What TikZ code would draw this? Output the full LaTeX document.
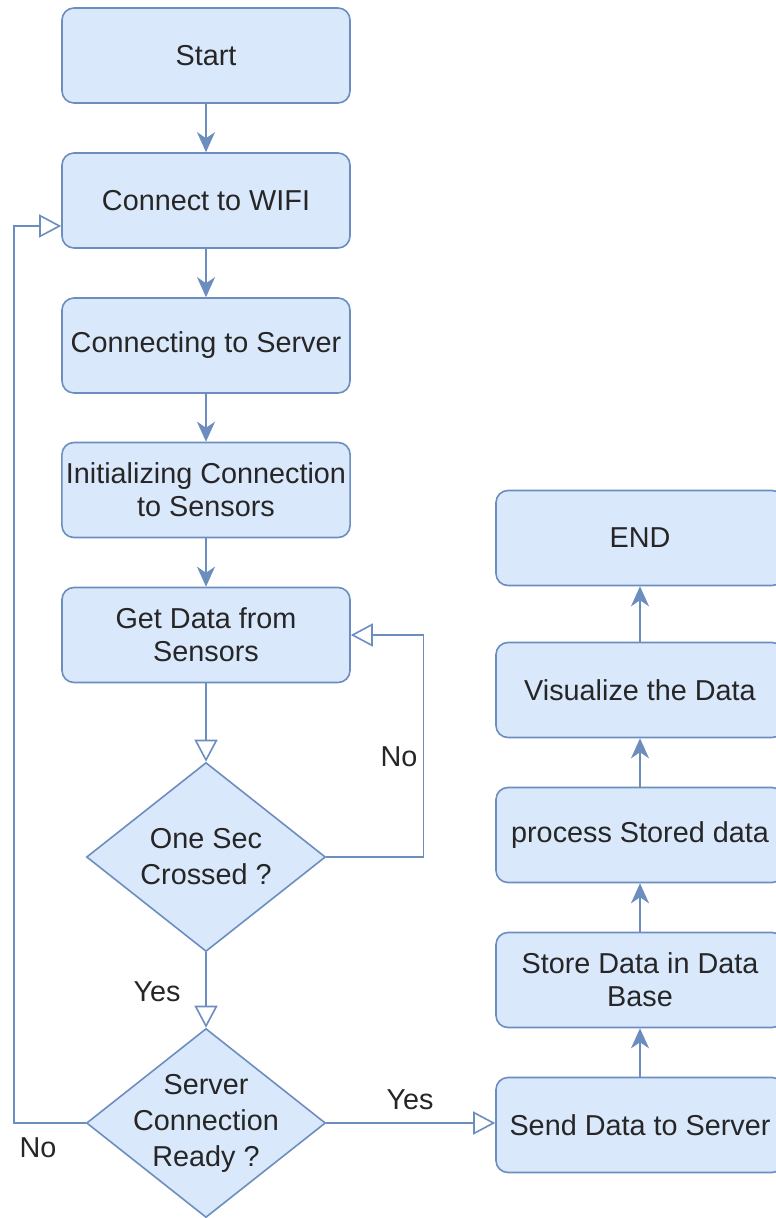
\documentclass[tikz,border=0pt]{standalone}
\usepackage{fontspec}
\setmainfont{Liberation Sans}
\usetikzlibrary{shapes.geometric,arrows.meta}
\definecolor{boxfill}{HTML}{DAE8FC}
\definecolor{boxline}{HTML}{6C8EBF}
\tikzset{
	txt/.style={text=black!85, font=\fontsize{14.4}{16.5}\selectfont},
	procbox/.style={txt, draw=boxline, fill=boxfill, rounded corners=6pt, line width=0.8pt,
		minimum width=144pt, minimum height=47.5pt, align=center, inner sep=2pt},
	decbox/.style={txt, diamond, draw=boxline, fill=boxfill, line width=0.8pt, align=center,
		aspect=1.26, inner sep=-6pt, minimum width=119.5pt, minimum height=94.5pt,
		font=\fontsize{14.4}{18}\selectfont},
	flow/.style={draw=boxline, line width=0.8pt, -{Stealth[length=10pt,width=9pt,inset=3pt]}},
	flowopen/.style={draw=boxline, line width=0.8pt, -{Triangle[open,length=11pt,width=11.5pt,fill=white]}}
}
\begin{document}
\begin{tikzpicture}[x=0.5pt, y=-0.5pt]
			\useasboundingbox (0,0) rectangle (775,1218);
			\node[procbox] (start) at (206,55.5) {Start};
			\node[procbox] (wifi) at (206,200.5) {Connect to WIFI};
			\node[procbox] (server) at (206,345.5) {Connecting to Server};
			\node[procbox] (init) at (206,490) {Initializing Connection\\to Sensors};
			\node[procbox] (getdata) at (206,635) {Get Data from\\Sensors};
			\node[decbox] (onesec) at (206,857) {One Sec\\Crossed ?};
			\node[decbox] (ready) at (206,1123) {Server\\Connection\\Ready ?};
			% right column, bottom up
			\node[procbox] (send) at (640,1125) {Send Data to Server};
			\node[procbox] (store) at (640,980) {Store Data in Data\\Base};
			\node[procbox] (process) at (640,835) {process Stored data};
			\node[procbox] (visual) at (640,690) {Visualize the Data};
			\node[procbox] (end) at (640,538) {END};
			\draw[flow] (start) -- (wifi);
			\draw[flow] (wifi) -- (server);
			\draw[flow] (server) -- (init);
			\draw[flow] (init) -- (getdata);
			\draw[flowopen] (getdata) -- (onesec);
			\draw[flowopen] (onesec.east) -- ++(97,0) |- (getdata.east);
			\node[txt] (noa) at (399,757) {No};
			\draw[flowopen] (onesec) -- (ready);
			\node[txt] (yesa) at (157,992) {Yes};
			\draw[flowopen] (ready.west) -- ++(-72,0) |- ([yshift=-12.75pt]wifi.west);
			\node[txt] (nob) at (38,1148) {No};
			\draw[flowopen] (ready.east) -- (ready.east -| send.west);
			\node[txt] (yesb) at (410,1100) {Yes};
			\draw[flow] (send) -- (store);
			\draw[flow] (store) -- (process);
			\draw[flow] (process) -- (visual);
			\draw[flow] (visual) -- (end);
		\end{tikzpicture}
\end{document}
